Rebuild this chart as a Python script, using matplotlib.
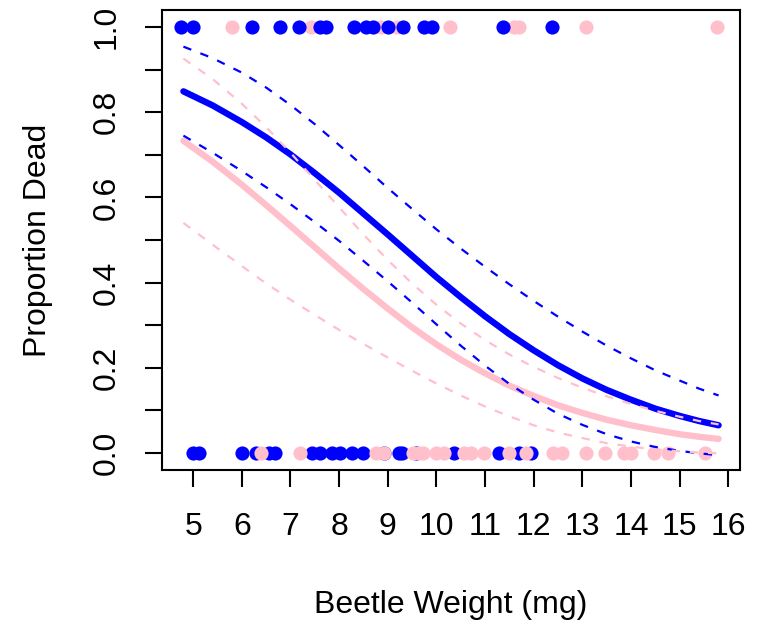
import numpy as np
import matplotlib.pyplot as plt

plt.rcParams['font.family'] = ['Liberation Sans', 'DejaVu Sans']

BLUE = "#0000FF"
PINK = "#FFC0CB"

# observed beetles: weight (mg) by outcome, one list per group
blue_dead = [4.75, 4.99, 6.21, 6.79, 7.18, 7.61, 7.73, 8.30, 8.55, 8.69,
             9.00, 9.31, 9.75, 9.90, 11.36, 12.37]
pink_dead = [5.80, 7.42, 8.86, 9.20, 10.28, 11.60, 11.70, 13.07, 15.76]
blue_alive = [5.00, 5.12, 6.00, 6.30, 6.55, 6.69, 7.44, 7.61, 7.85, 8.02,
              8.27, 8.49, 8.93, 9.24, 9.30, 9.58, 10.37, 11.28, 11.70, 11.95]
pink_alive = [6.40, 7.20, 8.76, 8.93, 9.51, 9.65, 9.72, 9.99, 10.16, 10.57,
              10.71, 10.98, 11.50, 11.84, 12.39, 12.59, 13.07, 13.47, 13.86,
              13.99, 14.47, 14.75, 15.53]

# predicted probability of death with upper/lower bands
grid = [4.8, 5.4, 6, 6.5, 7, 7.5, 8, 8.5, 9, 9.5, 10, 10.5, 11, 11.5, 12,
        12.5, 13, 13.5, 14, 14.5, 15, 15.4, 15.8]
blue_fit = [0.849, 0.816, 0.777, 0.741, 0.701, 0.657, 0.611, 0.562, 0.513,
            0.463, 0.413, 0.366, 0.321, 0.279, 0.241, 0.206, 0.175, 0.148,
            0.125, 0.104, 0.087, 0.075, 0.065]
blue_hi = [0.954, 0.927, 0.893, 0.858, 0.817, 0.772, 0.723, 0.673, 0.622,
           0.573, 0.525, 0.480, 0.437, 0.396, 0.357, 0.320, 0.285, 0.252,
           0.222, 0.194, 0.170, 0.151, 0.135]
blue_lo = [0.745, 0.705, 0.662, 0.624, 0.584, 0.542, 0.498, 0.451, 0.403,
           0.353, 0.302, 0.252, 0.205, 0.162, 0.125, 0.092, 0.066, 0.044,
           0.027, 0.014, 0.005, -0.001, -0.005]
pink_fit = [0.733, 0.684, 0.630, 0.582, 0.533, 0.483, 0.433, 0.385, 0.339,
            0.295, 0.255, 0.219, 0.187, 0.158, 0.134, 0.112, 0.094, 0.078,
            0.065, 0.054, 0.044, 0.038, 0.033]
pink_hi = [0.926, 0.878, 0.820, 0.765, 0.705, 0.641, 0.577, 0.513, 0.453,
           0.398, 0.348, 0.304, 0.265, 0.231, 0.202, 0.176, 0.153, 0.133,
           0.115, 0.099, 0.085, 0.075, 0.067]
pink_lo = [0.540, 0.489, 0.439, 0.398, 0.360, 0.324, 0.289, 0.256, 0.224,
           0.193, 0.163, 0.135, 0.109, 0.086, 0.065, 0.048, 0.035, 0.023,
           0.015, 0.008, 0.004, 0.001, -0.001]

fig = plt.figure(figsize=(7.6, 6.28), dpi=100)
ax = fig.add_axes([162 / 760, 1 - 470 / 628, 578 / 760, 460 / 628])

ms = 10.2
ax.plot(pink_dead, np.ones(len(pink_dead)), 'o', color=PINK, ms=ms, mew=0)
ax.plot(blue_dead, np.ones(len(blue_dead)), 'o', color=BLUE, ms=ms, mew=0)
ax.plot(blue_alive, np.zeros(len(blue_alive)), 'o', color=BLUE, ms=ms, mew=0)
ax.plot(pink_alive, np.zeros(len(pink_alive)), 'o', color=PINK, ms=ms, mew=0)

ax.plot(grid, blue_fit, color=BLUE, lw=4.6, solid_capstyle='round',
        solid_joinstyle='round')
ax.plot(grid, pink_fit, color=PINK, lw=4.6, solid_capstyle='round',
        solid_joinstyle='round')
dash = (0, (3.8, 4.4))
for ys in (blue_hi, blue_lo):
    ax.plot(grid, ys, color=BLUE, lw=1.6, ls=dash)
for ys in (pink_hi, pink_lo):
    ax.plot(grid, ys, color=PINK, lw=1.6, ls=dash)

ax.set_xlim(4.36, 16.24)
ax.set_ylim(-0.04, 1.04)
ax.set_xticks(range(5, 17))
ax.set_yticks(np.arange(0, 1.01, 0.1))
ax.set_yticklabels(["0.0", "", "0.2", "", "0.4", "", "0.6", "", "0.8", "", "1.0"])

for side in ax.spines.values():
    side.set_linewidth(1.5)
ax.tick_params(length=12, width=1.5, labelsize=23, pad=18)
ax.tick_params(axis='y', labelrotation=90, pad=17)
for lab in ax.get_yticklabels():
    lab.set_va('center')

fig.text(451 / 760, 1 - 605 / 628, "Beetle Weight (mg)", ha='center',
         va='center', fontsize=23)
fig.text(38 / 760, 1 - 240 / 628, "Proportion Dead", ha='center',
         va='center', rotation=90, fontsize=23)

fig.savefig("out.png", dpi=100)
